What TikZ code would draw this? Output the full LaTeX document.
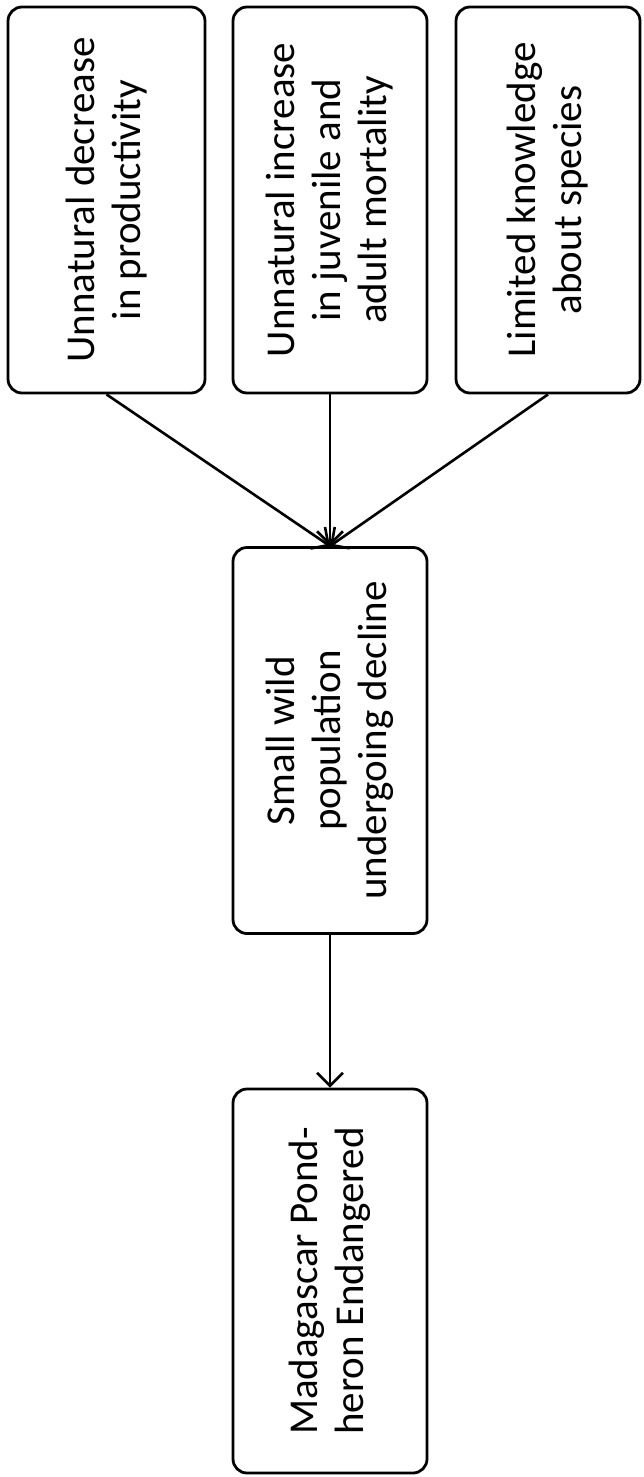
\documentclass[tikz,border=0pt]{standalone}
\usepackage{fontspec}
\setmainfont{Carlito}
\usetikzlibrary{arrows.meta,positioning}
\tikzset{
  cbox/.style={draw, line width=2.8pt, rounded corners=14pt, rotate=90, align=center, inner sep=0pt,
    minimum width=386pt, minimum height=194pt, font=\fontsize{41}{46}\selectfont},
  flow/.style={line width=2.6pt, -{Straight Barb[length=13pt,width=26pt,line width=2.6pt]}}
}
\begin{document}
\begin{tikzpicture}[x=1pt,y=-1pt]
        \useasboundingbox (0,0) rectangle (644,1477);
        % Nodes
        \node (cause1) at (106.5,200) [cbox, minimum height=197pt] {Unnatural decrease\\in productivity};
        \node (cause2) at (330,200) [cbox] {Unnatural increase\\in juvenile and\\adult mortality};
        \node (cause3) at (548,200) [cbox, minimum height=184pt] {Limited knowledge\\about species};
        \node (decline) at (330,740.5) [cbox] {Small wild\\population\\undergoing decline};
        \node (status) at (330,1281) [cbox, minimum width=384pt] {Madagascar Pond-\\heron Endangered};

        % Edges
        \foreach \i in {1,2,3} {
            \draw[flow] (cause\i.west) -- (decline.east);
        }

        \draw[flow] (decline.west) -- (status.east);
    \end{tikzpicture}
\end{document}
